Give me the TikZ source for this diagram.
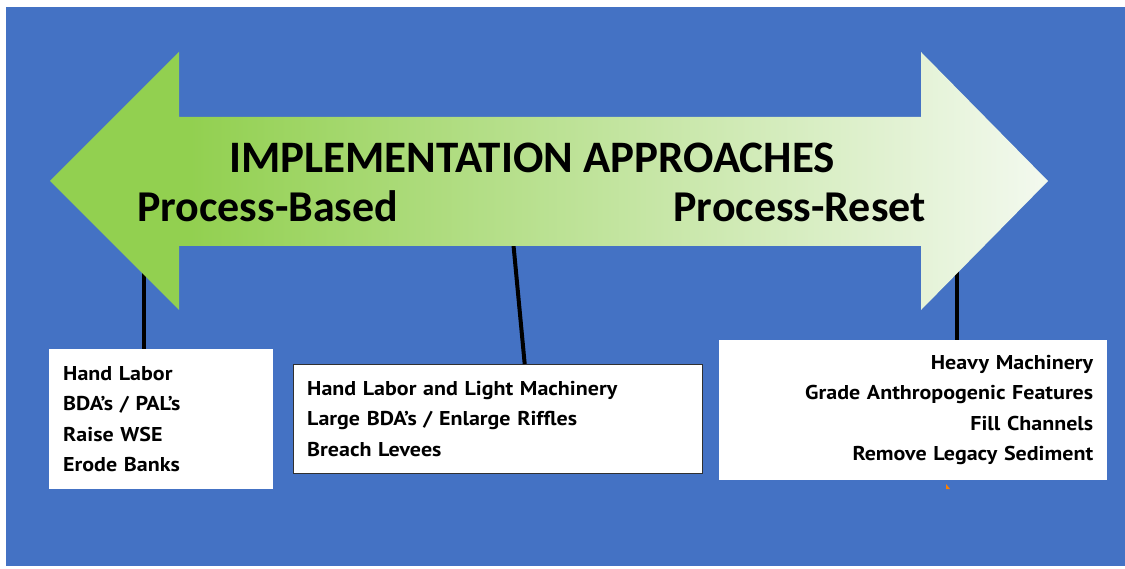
\documentclass[tikz,border=0pt]{standalone}
\usepackage{fontspec}
\setmainfont{Carlito}
\newfontfamily\listfont[FakeStretch=1.1]{PT Sans}
\definecolor{slideblue}{HTML}{4472C4}
\definecolor{leafgreen}{HTML}{92D050}
\definecolor{paleleaf}{HTML}{F3F9EF}
\definecolor{framegray}{HTML}{303030}
\pgfdeclarehorizontalshading{leaffade}{100bp}{color(0bp)=(leafgreen); color(32bp)=(leafgreen); color(75bp)=(paleleaf); color(100bp)=(paleleaf)}

\begin{document}
\begin{tikzpicture}[x=1pt,y=-1pt,
    heading/.style={inner sep=0pt, font=\fontsize{44}{44}\selectfont\bfseries},
    listbox/.style={fill=white, inner xsep=14pt, inner ysep=0pt, font=\listfont\fontsize{20}{30.5}\selectfont\bfseries},
    stem/.style={line width=4pt, black}]
    \useasboundingbox (0,0) rectangle (1125,569);
    % slide
    \fill[slideblue] (6,7) rectangle (1125,566);

    % boxes
    \node[listbox, align=left, text width=196pt, minimum width=224pt, minimum height=140pt, anchor=north west] (handbox) at (49,349) {Hand Labor\\BDA’s / PAL’s\\Raise WSE\\Erode Banks};
    \node[listbox, draw=framegray, thin, align=left, text width=381pt, minimum width=409pt, minimum height=109pt, anchor=north west] (lightbox) at (293,364) {Hand Labor and Light Machinery\\Large BDA’s / Enlarge Riffles\\Breach Levees};
    \node[listbox, align=right, text width=360pt, minimum width=388pt, minimum height=140pt, anchor=north west] (heavybox) at (719,340) {Heavy Machinery\\Grade Anthropogenic Features\\Fill Channels\\Remove Legacy Sediment};

    % stems
    \coordinate (basedfoot) at (144,246);
    \coordinate (midfoot) at (513,240);
    \coordinate (resetfoot) at (957,246);
    \draw[stem] (basedfoot) -- (basedfoot |- handbox.north);
    \draw[stem] (midfoot) -- ([xshift=27pt]lightbox.north);
    \draw[stem] (resetfoot) -- (resetfoot |- heavybox.north);

    % double arrow
    \shade[shading=leaffade] (50,181) -- (179,52) -- (179,117) -- (921,117) -- (921,52) -- (1048,181)
        -- (921,310) -- (921,246) -- (179,246) -- (179,310) -- cycle;
    \fill[orange] (946,484) -- (950,489) -- (946,489) -- cycle;

    % headings
    \node[heading, font=\fontsize{45}{45}\selectfont\bfseries, anchor=base] (title) at (532,173) {IMPLEMENTATION APPROACHES};
    \node[heading, anchor=base west] (based) at (137,222) {Process-Based};
    \node[heading, anchor=base east] (reset) at (926,222) {Process-Reset};
\end{tikzpicture}
\end{document}
